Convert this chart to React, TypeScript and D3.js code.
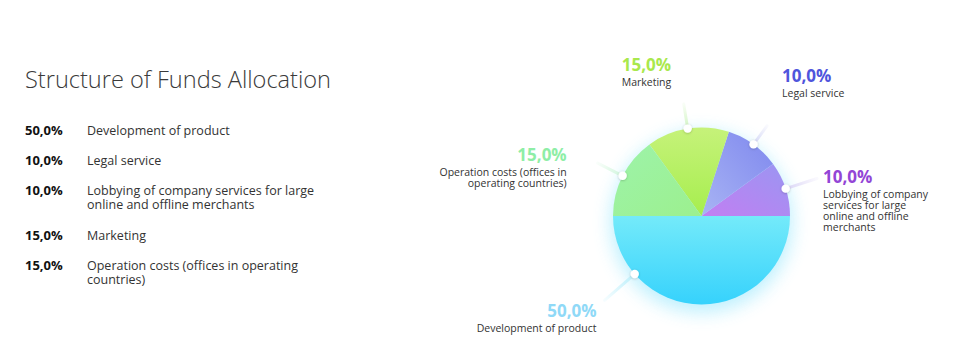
import React from "react";
import * as d3 from "d3";

// ---------- data ----------
const categories = [
  "Development of product",
  "Legal service",
  "Lobbying of company services for large online and offline merchants",
  "Marketing",
  "Operation costs (offices in operating countries)",
];
const values = [50, 10, 10, 15, 15];
const percentLabels = ["50,0%", "10,0%", "10,0%", "15,0%", "15,0%"];
// wrapped lines for the left list
const listLines = [
  ["Development of product"],
  ["Legal service"],
  ["Lobbying of company services for large", "online and offline merchants"],
  ["Marketing"],
  ["Operation costs (offices in operating", "countries)"],
];
// wrapped lines for the pie callouts
const calloutLines = [
  ["Development of product"],
  ["Legal service"],
  ["Lobbying of company", "services for large", "online and offline", "merchants"],
  ["Marketing"],
  ["Operation costs (offices in", "operating countries)"],
];
// order of slices counter-clockwise from 3 o'clock
const pieOrder = [2, 1, 3, 4, 0];
const title = "Structure of Funds Allocation";

// ---------- styles ----------
const sliceGrad = [
  { x1: 0, y1: 0, x2: 0, y2: 1, c: ["#74eafa", "#36d2fc"] }, // development
  { x1: 1, y1: 0, x2: 0, y2: 1, c: ["#7f88ee", "#a8b4f4"] }, // legal
  { x1: 1, y1: 0, x2: 0, y2: 1, c: ["#9a96f2", "#c27ef2"] }, // lobbying
  { x1: 0, y1: 0, x2: 0, y2: 1, c: ["#c6f27a", "#a6ee4e"] }, // marketing
  { x1: 0, y1: 0, x2: 1, y2: 1, c: ["#9df3aa", "#9cf08e"] }, // operation
];
const pctColor = ["#8fd9f7", "#4f55dc", "#9345d6", "#a9e84c", "#8eeea6"];
const lineColor = ["#bff0fb", "#d6d8f6", "#ddd6f6", "#d4f5c4", "#d2f6dc"];

const W = 960;
const H = 361;
const cx = 701.5;
const cy = 216;
const R = 88.5;

// callout layout: dot angle override (deg, d3 convention), leader length, label offset from leader end, anchor
const callout = [
  { angle: -131, len: 40, dx: -8, dy: 17, anchor: "end" },
  { angle: null, len: 23, dx: 15, dy: -44, anchor: "start" },
  { angle: null, len: 33, dx: 6, dy: 5, anchor: "start" },
  { angle: null, len: 25, dx: -62, dy: -33, anchor: "start" },
  { angle: null, len: 28, dx: -31, dy: -2, anchor: "end" },
];

export default function App() {
  const pie = d3
    .pie<number>()
    .sort(() => 0)
    .value((d) => d)
    .startAngle(Math.PI / 2)
    .endAngle(Math.PI / 2 - 2 * Math.PI);
  const orderedIdx = pieOrder;
  const arcs = pie(orderedIdx.map((i) => values[i]));
  const arcGen = d3.arc<d3.PieArcDatum<number>>().innerRadius(0).outerRadius(R);

  const font = "'Open Sans', sans-serif";

  const geom = arcs.map((a, k) => {
    const i = orderedIdx[k];
    const co = callout[i];
    const ang = co.angle !== null ? (co.angle * Math.PI) / 180 : (a.startAngle + a.endAngle) / 2;
    return {
      i,
      co,
      x0: cx + Math.sin(ang) * R,
      y0: cy - Math.cos(ang) * R,
      x1: cx + Math.sin(ang) * (R + co.len),
      y1: cy - Math.cos(ang) * (R + co.len),
    };
  });

  const rows: React.ReactElement[] = [];
  let y = 135;
  categories.forEach((c, i) => {
    rows.push(
      <text key={`p${i}`} x={25} y={y} fontSize={13} fontWeight={700} fill="#111">
        {percentLabels[i]}
      </text>
    );
    listLines[i].forEach((ln, j) => {
      rows.push(
        <text key={`l${i}-${j}`} x={87} y={y + j * 14} fontSize={12.5} fill="#333">
          {ln}
        </text>
      );
    });
    y += 30 + (listLines[i].length - 1) * 14.5;
  });

  return (
    <svg
      width={W}
      height={H}
      style={{ position: "absolute", left: 0, top: 0, background: "#fff" }}
      fontFamily={font}
    >
      <defs>
        {sliceGrad.map((g, i) => (
          <linearGradient key={i} id={`sg${i}`} x1={g.x1} y1={g.y1} x2={g.x2} y2={g.y2}>
            <stop offset="0%" stopColor={g.c[0]} />
            <stop offset="100%" stopColor={g.c[1]} />
          </linearGradient>
        ))}
        <filter id="glow" x="-50%" y="-50%" width="200%" height="200%">
          <feGaussianBlur stdDeviation="9" />
        </filter>
        <filter id="dotsh" x="-100%" y="-100%" width="300%" height="300%">
          <feDropShadow dx="0" dy="0.5" stdDeviation="0.8" floodColor="#000" floodOpacity="0.25" />
        </filter>
        {geom.map((g) => (
          <linearGradient key={g.i} id={`lg${g.i}`} gradientUnits="userSpaceOnUse" x1={g.x0} y1={g.y0} x2={g.x1} y2={g.y1}>
            <stop offset="0%" stopColor={lineColor[g.i]} stopOpacity={1} />
            <stop offset="100%" stopColor={lineColor[g.i]} stopOpacity={0.15} />
          </linearGradient>
        ))}
      </defs>

      {/* title */}
      <text x={25} y={88} fontSize={24.5} fontWeight={300} fill="#3a3a3a" textLength={306} lengthAdjust="spacingAndGlyphs">
        {title}
      </text>

      {/* list */}
      {rows}

      {/* glow */}
      <circle cx={cx} cy={cy + 6} r={R + 2} fill="#45d4fb" opacity={0.35} filter="url(#glow)" />

      {/* slices */}
      <g transform={`translate(${cx},${cy})`}>
        {arcs.map((a, k) => (
          <path key={k} d={arcGen(a) || ""} fill={`url(#sg${orderedIdx[k]})`} />
        ))}
      </g>

      {/* callouts */}
      {geom.map((g) => {
        const lx = g.x1 + g.co.dx;
        const ly = g.y1 + g.co.dy;
        return (
          <g key={`c${g.i}`}>
            <line x1={g.x0} y1={g.y0} x2={g.x1} y2={g.y1} stroke={`url(#lg${g.i})`} strokeWidth={3} strokeLinecap="round" />
            <circle cx={g.x0} cy={g.y0} r={4.2} fill="#fff" filter="url(#dotsh)" />
            <text x={lx} y={ly} fontSize={17} fontWeight={700} fill={pctColor[g.i]} textAnchor={g.co.anchor}>
              {percentLabels[g.i]}
            </text>
            {calloutLines[g.i].map((ln, j) => (
              <text key={j} x={lx} y={ly + 15 + j * 10.8} fontSize={10.5} fill="#333" textAnchor={g.co.anchor}>
                {ln}
              </text>
            ))}
          </g>
        );
      })}
    </svg>
  );
}
